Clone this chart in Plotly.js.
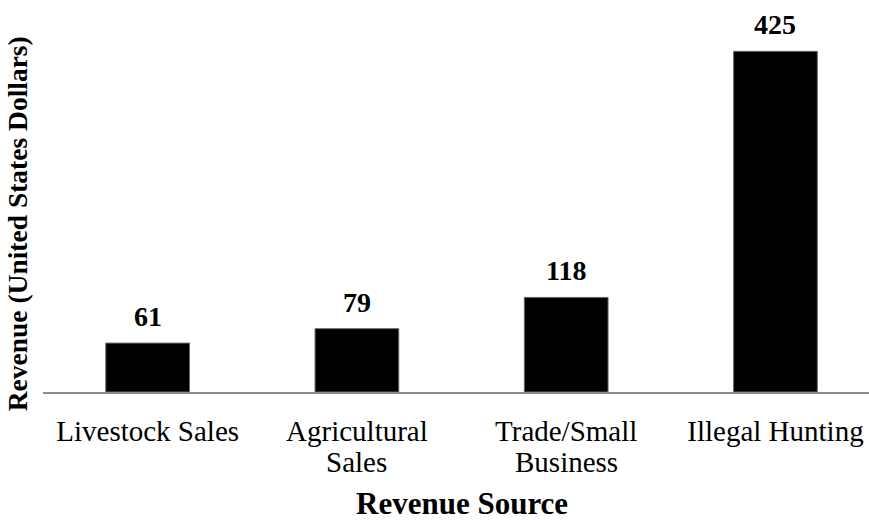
<!DOCTYPE html>
<html><head><meta charset="utf-8">
<script src="https://cdn.plot.ly/plotly-3.0.1.min.js"></script>
<style>body{margin:0;background:#fff}#c{width:869px;height:520px}</style>
</head><body><div id="c"></div>
<script>
const categories = ["Livestock Sales", "Agricultural<br>Sales", "Trade/Small<br>Business", "Illegal Hunting"];
const revenue = [61, 79, 118, 425];
const xTitle = "Revenue Source";
const yTitle = "Revenue (United States Dollars)";

const serif = "Liberation Serif, Times New Roman, serif";
const PH = 382; // plot height px
const firstLines = categories.map(c => c.split("<br>")[0]);
const ann = revenue.map((v, i) => ({
  x: i, y: v, text: "<b>" + v + "</b>", showarrow: false,
  yanchor: "bottom", yshift: 9, font: {family: serif, size: 28, color: "#000"}
}));
categories.forEach((c, i) => {
  const parts = c.split("<br>");
  if (parts.length > 1) {
    ann.push({x: i, xref: "x", yref: "paper", y: -70 / PH, yanchor: "middle", text: parts[1],
      showarrow: false, font: {family: serif, size: 29, color: "#000"}});
  }
});
ann.push({xref: "paper", yref: "paper", x: -0.051, y: 0.44, text: "<b>" + yTitle + "</b>",
  showarrow: false, textangle: -90, font: {family: serif, size: 27.5, color: "#000"}});
ann.push({xref: "paper", yref: "paper", x: 0.507, y: -127 / PH, yanchor: "bottom", height: 28, valign: "middle",
  text: "<b>" + xTitle + "</b>", showarrow: false, font: {family: serif, size: 31, color: "#000"}});

Plotly.newPlot("c", [{
  type: "bar", x: [0,1,2,3], y: revenue, width: 0.4,
  marker: {color: "#000", line: {color: "#666", width: 1}}
}], {
  width: 869, height: 520,
  margin: {l: 43, r: 0, t: 10, b: 128},
  paper_bgcolor: "#fff", plot_bgcolor: "#fff",
  showlegend: false,
  xaxis: {range: [-0.5, 3.447], tickvals: [0,1,2,3], ticktext: firstLines,
    showline: true, linecolor: "#8c8c8c", linewidth: 1.5, ticks: "", showgrid: false, zeroline: false,
    ticklabelstandoff: 13,
    tickfont: {family: serif, size: 29, color: "#000"}},
  yaxis: {range: [0, 476.6], showticklabels: false, showgrid: false, zeroline: false, showline: false, ticks: ""},
  annotations: ann
}, {displayModeBar: false, staticPlot: true});
</script></body></html>
